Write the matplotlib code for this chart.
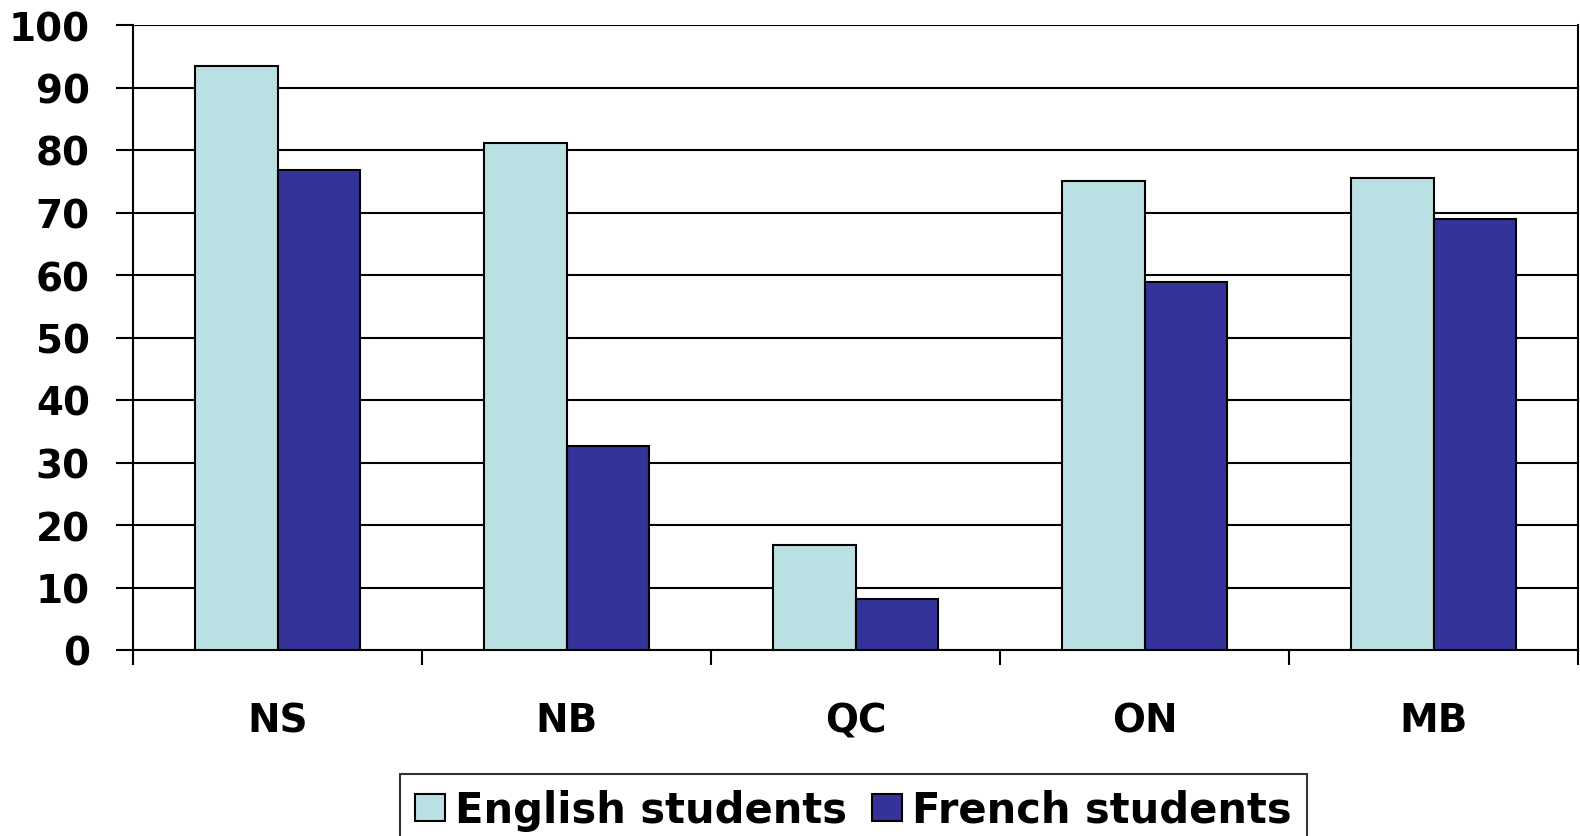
import matplotlib
matplotlib.use("Agg")
import matplotlib.pyplot as plt
import numpy as np

categories = ["NS", "NB", "QC", "ON", "MB"]
english = [93.4, 81.1, 16.8, 75.1, 75.5]
french = [76.8, 32.6, 8.2, 58.9, 69.0]
yticks = [0, 10, 20, 30, 40, 50, 60, 70, 80, 90, 100]

plt.rcParams['font.family'] = ['DejaVu Sans']

W, H = 1580, 837
PX = 72 / 100  # points per pixel at dpi 100
fig = plt.figure(figsize=(W / 100, H / 100), dpi=100)
ax = fig.add_axes([133 / W, 1 - 651 / H, (1578 - 133) / W, (651 - 26) / H])

x = np.arange(len(categories))
bw = 0.287
ax.bar(x - bw / 2, english, bw, color="#BBE0E3", edgecolor="black", linewidth=1.5,
       label="English students", zorder=3)
ax.bar(x + bw / 2, french, bw, color="#333399", edgecolor="black", linewidth=1.5,
       label="French students", zorder=3)

ax.set_xlim(-0.5, len(categories) - 0.5)
ax.set_ylim(0, 100)
ax.set_yticks(yticks)
ax.set_yticklabels([str(v) for v in yticks], fontsize=28, fontweight="bold")
ax.yaxis.grid(True, color="black", linewidth=1.5, zorder=0)
ax.set_axisbelow(True)

ax.set_xticks(np.arange(len(categories) + 1) - 0.5)
ax.set_xticklabels([])
ax.set_xticks(x, minor=True)
ax.set_xticklabels(categories, minor=True, fontsize=28, fontweight="bold")
ax.tick_params(axis="x", which="minor", length=0, pad=37)
ax.tick_params(axis="x", which="major", length=15 * PX, width=1.5, direction="out")
ax.tick_params(axis="y", length=17 * PX, width=1.5, direction="out", pad=26 * PX)

ax.spines["top"].set_visible(False)
for s in ["left", "bottom", "right"]:
    ax.spines[s].set_linewidth(1.5)

leg = fig.legend(loc="upper center", bbox_to_anchor=(853.5 / W, 1 - 775 / H), ncol=2,
                 prop={"size": 30, "weight": "bold"}, frameon=True, fancybox=False,
                 edgecolor="black", handlelength=0.72, handleheight=0.62,
                 handletextpad=0.24, columnspacing=0.6, borderpad=0.36,
                 borderaxespad=0)
leg.get_frame().set_linewidth(1.5)
for h in leg.legend_handles:
    h.set_linewidth(1.5)

fig.savefig("out.png", dpi=100)
